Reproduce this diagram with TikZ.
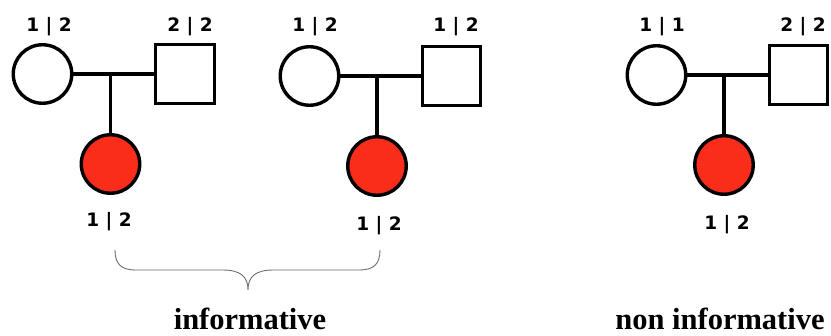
\documentclass[tikz,border=0pt]{standalone}
\usepackage{fontspec}
\setmainfont{Liberation Serif}
\newfontfamily\labfont{DejaVu Sans}
\definecolor{affred}{RGB}{250,44,26}
\definecolor{bracegray}{RGB}{110,110,110}
\begin{document}
\begin{tikzpicture}[x=1pt,y=-1pt,
  person/.style={draw=black,line width=3.4pt,inner sep=0pt},
  female/.style={person,circle,minimum size=58.5pt,fill=white},
  affected/.style={person,circle,minimum size=58.5pt,fill=affred},
  male/.style={person,rectangle,minimum size=58.5pt,fill=white},
  geno/.style={font=\labfont\bfseries\fontsize{18.5}{19}\selectfont,inner sep=0pt},
  mate/.style={line width=3.4pt},
  title/.style={font=\bfseries\fontsize{30.5}{31}\selectfont,inner sep=0pt,anchor=base}]
\useasboundingbox[fill=white] (0,0) rectangle (831,336);
% group 1
\node[female] (m1) at (42.5,74) {};
\node[male] (f1) at (185,74) {};
\node[affected] (k1) at (110.5,164) {};
\coordinate (j1) at (110.5,74);
\draw[mate] (m1.east) -- (f1.west);
\draw[mate] (j1) -- (k1.north);
\node[geno] (gm1) at (49,27) {1 | 2};
\node[geno] (gf1) at (190,27) {2 | 2};
\node[geno] (gk1) at (109,222) {1 | 2};
% group 2
\node[female] (m2) at (309.5,76) {};
\node[male] (f2) at (451.5,76) {};
\node[affected] (k2) at (377,166) {};
\coordinate (j2) at (377,76);
\draw[mate] (m2.east) -- (f2.west);
\draw[mate] (j2) -- (k2.north);
\node[geno] (gm2) at (315,27) {1 | 2};
\node[geno] (gf2) at (456,27) {1 | 2};
\node[geno] (gk2) at (379,226) {1 | 2};
% group 3
\node[female] (m3) at (656.5,75) {};
\node[male] (f3) at (798.5,75) {};
\node[affected] (k3) at (724,165) {};
\coordinate (j3) at (724,75);
\draw[mate] (m3.east) -- (f3.west);
\draw[mate] (j3) -- (k3.north);
\node[geno] (gm3) at (662,27) {1 | 1};
\node[geno] (gf3) at (803,27) {2 | 2};
\node[geno] (gk3) at (727,225) {1 | 2};
% brace
\coordinate (bl) at (115,250);
\coordinate (br) at (380,250);
\coordinate (bt) at (248,290);
\draw[bracegray,line width=0.9pt]
  (bl) .. controls (115,264) and (121,270) .. (136,270)
  -- (222,270) .. controls (240,270) and (248,276) .. (bt)
  .. controls (248,276) and (256,270) .. (274,270)
  -- (359,270) .. controls (374,270) and (380,264) .. (br);
% titles
\node[title] (t1) at (250,330) {informative};
\node[title] (t2) at (720,330) {non informative};
\end{tikzpicture}
\end{document}
